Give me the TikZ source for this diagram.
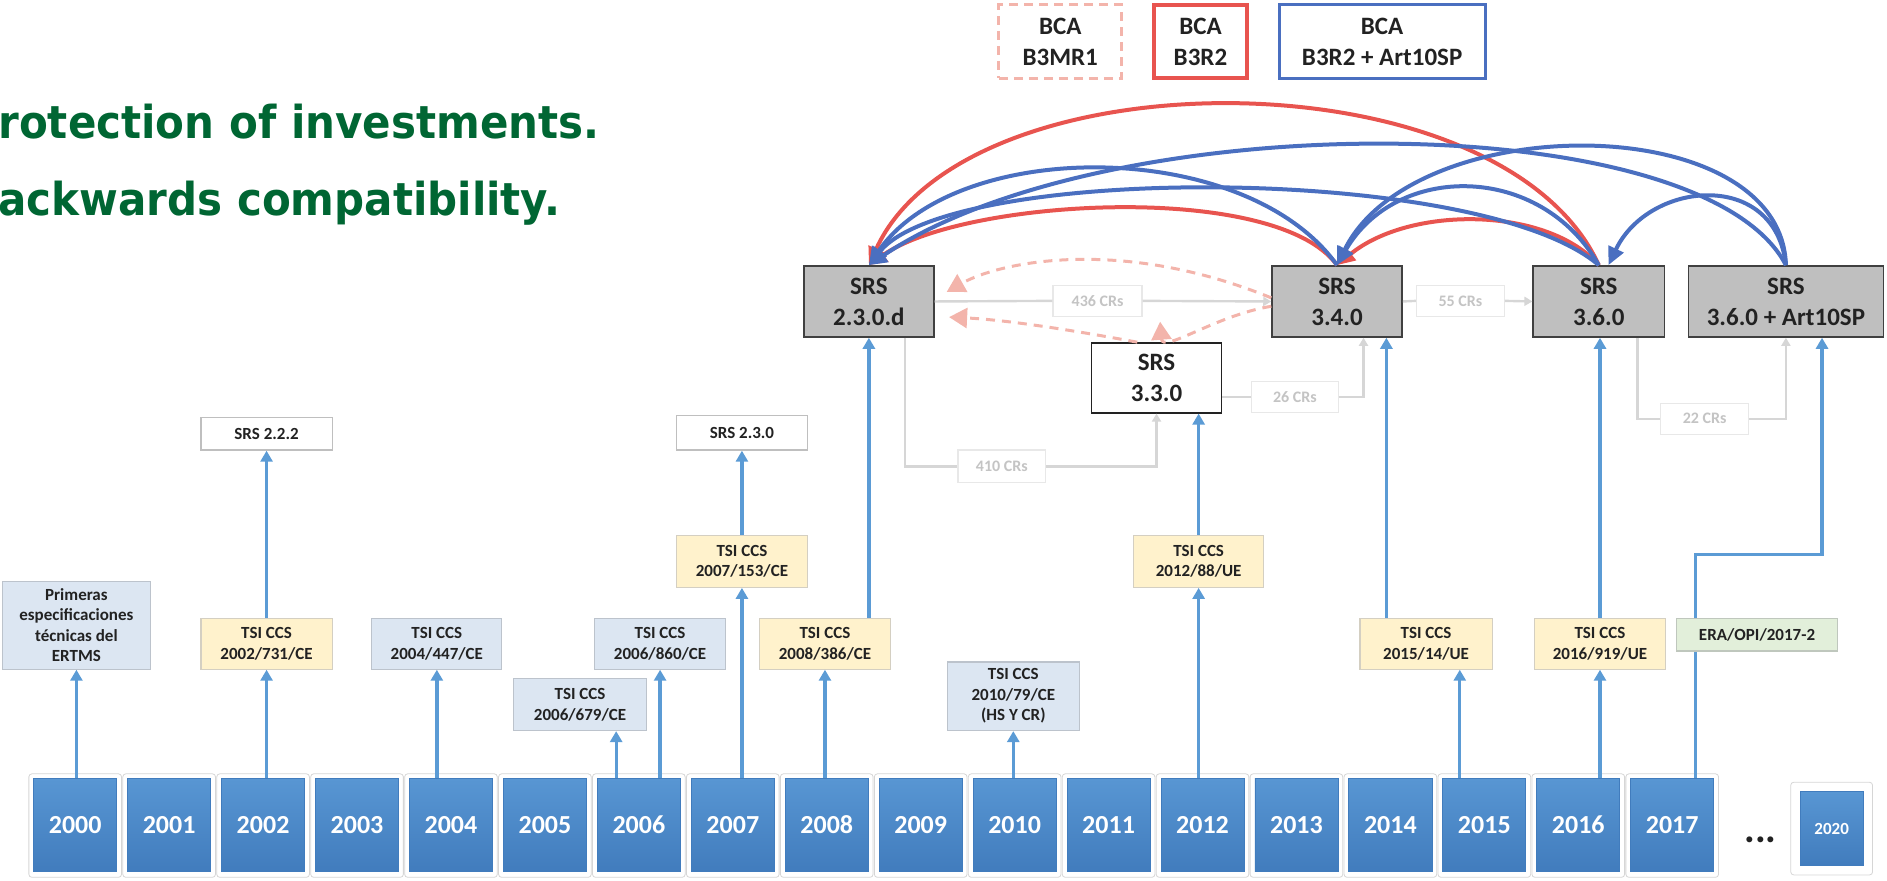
\documentclass[tikz,border=0pt]{standalone}
\usepackage{fontspec}
\setmainfont{Carlito}
\newfontfamily\ttlfont{DejaVu Sans}
\usetikzlibrary{arrows.meta,calc}

\definecolor{ttl}{HTML}{006633}
\definecolor{arrb}{HTML}{5B9BD5}
\definecolor{yrtop}{HTML}{5896D3}
\definecolor{yrbot}{HTML}{417CBD}
\definecolor{haloc}{HTML}{D6D6D6}
\definecolor{yel}{HTML}{FFF2CC}
\definecolor{yelb}{HTML}{D4CFC2}
\definecolor{lbl}{HTML}{DCE6F2}
\definecolor{lblb}{HTML}{BCC3CC}
\definecolor{lgrn}{HTML}{E2EFDA}
\definecolor{lgrnb}{HTML}{BFC7BD}
\definecolor{wbd}{HTML}{BFBFBF}
\definecolor{srsf}{HTML}{BFBFBF}
\definecolor{srsb}{HTML}{404040}
\definecolor{crl}{HTML}{D6D6D6}
\definecolor{crb}{HTML}{E8E8E8}
\definecolor{crt}{HTML}{C4C4C4}
\definecolor{redc}{HTML}{E8544F}
\definecolor{bluc}{HTML}{4A6FC0}
\definecolor{pinkc}{HTML}{F3B4AB}
\definecolor{txt}{HTML}{222222}

\newcommand{\mkbox}[7]{\node[#2, minimum width={(#5-#3)*1.2034pt}, minimum height={(#6-#4)*1.2034pt}] (#1) at ({(#3+#5)/2},{(#4+#6)/2}) {#7};}

\begin{document}
\begin{tikzpicture}[x=1.2034pt,y=-1.2034pt,
  box/.style={draw, inner sep=0pt, align=center, text=txt, line width=1.2pt,
    font=\bfseries\fontsize{17}{20.5}\selectfont},
  ybox/.style={box, fill=yel, draw=yelb},
  lbbox/.style={box, fill=lbl, draw=lblb},
  gbox/.style={box, fill=lgrn, draw=lgrnb},
  wbox/.style={box, fill=white, draw=wbd},
  srs/.style={draw=srsb, fill=srsf, line width=1.6pt, inner sep=0pt, align=center, text=txt,
    font=\bfseries\fontsize{25}{31}\selectfont},
  srsw/.style={srs, fill=white, draw=txt},
  crlab/.style={draw=crb, fill=white, line width=1.2pt, inner sep=0pt, text=crt,
    font=\bfseries\fontsize{16}{18}\selectfont},
  lgd/.style={draw=pinkc, line width=3pt, dash pattern=on 9pt off 6pt, inner sep=0pt, align=center,
    text=txt, font=\bfseries\fontsize{25}{31}\selectfont},
  lgr/.style={lgd, solid, draw=redc, line width=4pt},
  lgb/.style={lgd, solid, draw=bluc, line width=3pt},
  yr/.style={inner sep=0pt, top color=yrtop, bottom color=yrbot, draw=yrbot, line width=0.8pt,
    text=white, font=\bfseries\fontsize{26}{26}\selectfont},
  halobox/.style={draw=haloc, fill=white, line width=0.8pt, rounded corners=3pt},
  bl/.style={draw=arrb, line width=3.3pt},
  blarr/.style={bl, -{Triangle[length=11pt,width=12pt]}},
  cr/.style={draw=crl, line width=2.4pt},
  crarr/.style={cr, -{Triangle[length=8pt,width=9pt]}},
  arcR/.style={draw=redc, line width=4pt, -{Triangle[length=18pt,width=16pt]}},
  arcB/.style={draw=bluc, line width=4pt, -{Triangle[length=18pt,width=16pt]}},
  dsh/.style={draw=pinkc, line width=3pt, dash pattern=on 9pt off 7pt, -{Triangle[length=18pt,width=20pt]}},
  ttlstyle/.style={anchor=base west, inner sep=0pt, text=ttl, font=\ttlfont\bfseries\fontsize{42}{50}\selectfont}
]
\useasboundingbox (0,0) rectangle (1568,732);

% title
\node[ttlstyle] (t1) at (-1.5,114.7) {\scalebox{1}[1.08]{rotection of investments.}};
\node[ttlstyle] (t2) at (-1.5,178.7) {\scalebox{1}[1.08]{ackwards compatibility.}};

% legend
\mkbox{lg1}{lgd}{830}{4}{932}{65}{BCA\\B3MR1}
\mkbox{lg2}{lgr}{959}{4}{1036}{65}{BCA\\B3R2}
\mkbox{lg3}{lgb}{1063}{4}{1234}{65}{BCA\\B3R2 + Art10SP}

% SRS boxes
\mkbox{s230d}{srs}{668}{221}{776}{280}{SRS\\2.3.0.d}
\mkbox{s340}{srs}{1057}{221}{1165}{280}{SRS\\3.4.0}
\mkbox{s360}{srs}{1274}{221}{1383}{280}{SRS\\3.6.0}
\mkbox{s360a}{srs}{1403}{221}{1565}{280}{SRS\\3.6.0 + Art10SP}
\mkbox{s330}{srsw}{907}{285}{1015}{343}{SRS\\3.3.0}

% CR labels
\mkbox{c436}{crlab}{875}{237}{949}{263}{436 CRs}
\mkbox{c55}{crlab}{1177}{237}{1250}{263}{55 CRs}
\mkbox{c26}{crlab}{1040}{317}{1112}{343}{26 CRs}
\mkbox{c410}{crlab}{796}{374}{869}{401}{410 CRs}
\mkbox{c22}{crlab}{1380}{335}{1453}{361}{22 CRs}

% small boxes
\mkbox{srs222}{wbox}{167}{347}{276}{374}{SRS 2.2.2}
\mkbox{srs230}{wbox}{562}{345}{671}{374}{SRS 2.3.0}
\mkbox{t2007}{ybox}{562}{445}{671}{488}{TSI CCS\\2007/153/CE}
\mkbox{t2012}{ybox}{942}{445}{1050}{488}{TSI CCS\\2012/88/UE}
\mkbox{prim}{lbbox}{2}{483}{125}{556}{Primeras\\especificaciones\\técnicas del\\ERTMS}
\mkbox{t2002}{ybox}{167}{514}{276}{556}{TSI CCS\\2002/731/CE}
\mkbox{t2004}{lbbox}{309}{514}{417}{556}{TSI CCS\\2004/447/CE}
\mkbox{t2006b}{lbbox}{494}{514}{603}{556}{TSI CCS\\2006/860/CE}
\mkbox{t2008}{ybox}{631}{514}{740}{556}{TSI CCS\\2008/386/CE}
\mkbox{t2006a}{lbbox}{427}{564}{537}{607}{TSI CCS\\2006/679/CE}
\mkbox{t2010}{lbbox}{787}{550}{897}{607}{TSI CCS\\2010/79/CE\\(HS Y CR)}
\mkbox{t2015}{ybox}{1130}{514}{1240}{556}{TSI CCS\\2015/14/UE}
\mkbox{t2016}{ybox}{1275}{514}{1384}{556}{TSI CCS\\2016/919/UE}
\mkbox{era}{gbox}{1393}{514}{1527}{541}{ERA/OPI/2017-2}

% years
\foreach \i in {0,...,17}{
  \pgfmathsetmacro\xl{28+78.06*\i}
  \pgfmathtruncatemacro\yy{2000+\i}
  \draw[halobox] (\xl-4,643) rectangle (\xl+73,729);
  \node[yr, minimum width={69*1.2034pt}, minimum height={77*1.2034pt}] (y\yy) at (\xl+34.5,685.5) {\yy};
}
\draw[halobox] (1488,650) rectangle (1556,727);
\mkbox{y2020}{yr, font=\bfseries\fontsize{17}{17}\selectfont}{1496}{658}{1548}{719}{2020}
\node[inner sep=0pt, text=txt, font=\bfseries\fontsize{40}{40}\selectfont] (dots) at (1463,698) {...};

% CR connectors
\draw[cr] (s230d.east) -- (c436.west);
\draw[crarr] (c436.east) -- (s340.west);
\draw[cr] (s340.east) -- (c55.west);
\draw[crarr] (c55.east) -- (s360.west);
\draw[cr] (s330.east |- c26.west) -- (c26.west);
\coordinate (k26) at ($(s340.south)+(22,0)$);
\draw[crarr] (c26.east) -| (k26);
\coordinate (k410) at ($(s230d.south)+(30,0)$);
\draw[cr] (k410) |- (c410.west);
\draw[crarr] (c410.east) -| (s330.south);
\coordinate (k22) at ($(s360.south)+(32,0)$);
\draw[cr] (k22) |- (c22.west);
\draw[crarr] (c22.east) -| (s360a.south);

% dashed B3MR1 arcs
\coordinate (d1s) at ($(s340.west)+(0,-3)$);
\coordinate (d1e) at ($(s230d.east)+(10,-8)$);
\draw[dsh] (d1s) .. controls (930,196) and (830,218) .. (d1e);
\coordinate (d2s) at ($(s330.north)+(-16,0)$);
\coordinate (d2e) at ($(s230d.east)+(12,13)$);
\draw[dsh] (d2s) .. controls (900,276) and (840,266) .. (d2e);
\coordinate (d3s) at ($(s340.west)+(0,4)$);
\coordinate (d3e) at ($(s330.north)+(3,-17)$);
\draw[dsh] (d3s) .. controls (1010,262) and (966,294) .. (d3e);

% blue vertical connectors
\draw[blarr] (y2000.north -| prim.south) -- (prim.south);
\draw[blarr] (y2002.north -| t2002.south) -- (t2002.south);
\draw[blarr] (t2002.north) -- (srs222.south);
\draw[blarr] (y2004.north -| t2004.south) -- (t2004.south);
\coordinate (k2006a) at ($(t2006a.south)+(30,0)$);
\draw[blarr] (y2006.north -| k2006a) -- (k2006a);
\draw[blarr] (y2006.north -| t2006b.south) -- (t2006b.south);
\draw[blarr] (y2007.north -| t2007.south) -- (t2007.south);
\draw[blarr] (t2007.north) -- (srs230.south);
\draw[blarr] (y2008.north -| t2008.south) -- (t2008.south);
\draw[blarr] (t2008.north -| s230d.south) -- (s230d.south);
\draw[blarr] (y2010.north -| t2010.south) -- (t2010.south);
\draw[blarr] (y2012.north -| t2012.south) -- (t2012.south);
\draw[blarr] (t2012.north) -- (t2012.north |- s330.south);
\coordinate (k2015b) at ($(t2015.south)+(28,0)$);
\draw[blarr] (y2015.north -| k2015b) -- (k2015b);
\coordinate (k2015t) at ($(t2015.north)+(-33,0)$);
\draw[blarr] (k2015t) -- (k2015t |- s340.south);
\draw[blarr] (y2016.north -| t2016.south) -- (t2016.south);
\draw[blarr] (t2016.north) -- (t2016.north |- s360.south);
\coordinate (kera) at ($(era.north)+(-51,0)$);
\draw[bl] (y2017.north -| kera) -- (era.south -| kera);
\coordinate (kart) at ($(s360a.south)+(30,0)$);
\coordinate (kart460) at ($(kart)+(0,180)$);
\draw[blarr] (kera) |- (kart460) -- (kart);

% BCA arcs
\draw[arcR] (s360.north) .. controls (1248,43) and (802,43) .. (s230d.north);
\draw[arcR] (s340.north) .. controls (1060,150) and (800,165) .. (s230d.north);
\draw[arcR] (s360.north) .. controls (1285,171) and (1171,171) .. (s340.north);
\draw[arcB] (s340.north) .. controls (1035,114) and (795,114) .. (s230d.north);
\draw[arcB] (s360.north) .. controls (1230,136) and (790,136) .. (s230d.north);
\draw[arcB] (s360a.north) .. controls (1415,87) and (920,87) .. (s230d.north);
\draw[arcB] (s360a.north) .. controls (1480,90) and (1175,90) .. (s340.north);
\coordinate (e360) at ($(s360.north)+(8,0)$);
\draw[arcB] (s360a.north) .. controls (1475,140) and (1370,150) .. (e360);
\draw[arcB] (s360.north) .. controls (1280,135) and (1160,135) .. (s340.north);
\end{tikzpicture}
\end{document}
